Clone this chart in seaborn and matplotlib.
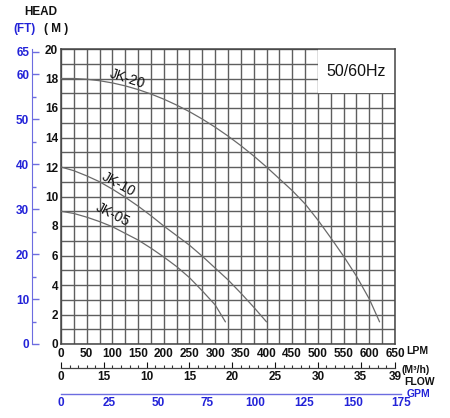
import numpy as np
import pandas as pd
import seaborn as sns
import matplotlib.pyplot as plt
from matplotlib.patches import Rectangle

# flow (LPM) and head (M)
jk20_flow = [0, 25, 50, 75, 100, 125, 150, 175, 200, 225, 250, 275, 300, 325, 350,
             375, 400, 425, 450, 475, 500, 525, 550, 575, 600, 620]
jk20_head = [18.0, 18.0, 17.95, 17.85, 17.7, 17.5, 17.25, 16.95, 16.6, 16.2, 15.75,
             15.25, 14.7, 14.1, 13.45, 12.75, 12.0, 11.2, 10.4, 9.5, 8.4, 7.2, 5.95,
             4.6, 3.05, 1.5]
jk10_flow = [0, 25, 50, 75, 100, 125, 150, 175, 200, 225, 250, 275, 300, 325, 350, 375, 400]
jk10_head = [12.0, 11.75, 11.4, 11.0, 10.5, 9.95, 9.35, 8.7, 8.0, 7.35, 6.7, 5.95,
             5.15, 4.35, 3.45, 2.5, 1.5]
jk05_flow = [0, 25, 50, 75, 100, 125, 150, 175, 200, 225, 250, 275, 300, 320]
jk05_head = [9.0, 8.85, 8.6, 8.3, 7.95, 7.5, 7.05, 6.5, 5.9, 5.25, 4.5, 3.6, 2.65, 1.5]

lpm_ticks = list(range(0, 651, 50))
head_ticks = list(range(0, 21, 2))
ft_ticks = [0, 10, 20, 30, 40, 50, 60, 65]
m3h_ticks = [0, 5, 10, 15, 20, 25, 30, 35, 39]
m3h_labels = ["0", "15", "10", "15", "20", "25", "30", "35", "39"]
gpm_ticks = list(range(0, 176, 25))

curves = {"JK-20": (jk20_flow, jk20_head),
          "JK-10": (jk10_flow, jk10_head),
          "JK-05": (jk05_flow, jk05_head)}
# label position (LPM, M) and rotation
curve_labels = {"JK-20": (129, 17.95, -18),
                "JK-10": (111, 10.85, -29),
                "JK-05": (101, 8.75, -27)}

sns.set_style("white")
plt.rcParams['font.family'] = ['Liberation Sans', 'DejaVu Sans']
plt.rcParams['font.weight'] = 'bold'

BLUE = "#2323d8"
BLUE_LINE = "#6c6ce0"
W, H = 450, 418
TICK_FS = 8.5

fig = plt.figure(figsize=(4.5, 4.18), dpi=100)
ax = fig.add_axes([61 / W, 74 / H, 334 / W, 295 / H])

for name, (fx, hy) in curves.items():
    df = pd.DataFrame({"flow": fx, "head": hy})
    sns.lineplot(data=df, x="flow", y="head", ax=ax, color="#6a6a6a",
                 linewidth=0.9, zorder=3)
    lx, ly, rot = curve_labels[name]
    ax.text(lx, ly, name, rotation=rot, ha="center", va="center",
            fontsize=10, fontweight="normal", color="#111111", zorder=4,
            rotation_mode="anchor")

ax.set_xlim(0, 650)
ax.set_ylim(0, 20)
ax.set_xticks(lpm_ticks)
ax.set_xticks(range(0, 651, 25), minor=True)
ax.set_yticks(head_ticks)
ax.set_yticks(range(0, 21), minor=True)
ax.grid(True, which="both", color="#5e5e5e", linewidth=1.0)
ax.set_axisbelow(True)
ax.tick_params(which="both", length=0, labelsize=TICK_FS, colors="#111111")
ax.tick_params(axis="x", pad=3)
ax.tick_params(axis="y", pad=2)
ax.set_xlabel("")
ax.set_ylabel("")
for s in ax.spines.values():
    s.set_color("#444444")
    s.set_linewidth(1.1)

# blank box behind the frequency label
ax.add_patch(Rectangle((500, 17), 150, 3, facecolor="white", edgecolor="none", zorder=1))
ax.text(575, 18.45, "50/60Hz", ha="center", va="center", fontsize=11.5,
        fontweight="normal", color="#111111", zorder=4)

# FT axis
ft = ax.secondary_yaxis(-0.087, functions=(lambda m: m * 3.2808, lambda f: f / 3.2808))
ft.set_yticks(ft_ticks)
ft.set_yticks(range(5, 60, 10), minor=True)
ft.tick_params(which="major", direction="in", length=5, width=1, colors=BLUE,
               labelsize=TICK_FS, pad=2)
ft.tick_params(which="minor", direction="in", length=3, width=1, color=BLUE_LINE)
ft.spines["left"].set_color(BLUE_LINE)
ft.tick_params(which="major", color=BLUE_LINE)

# m3/h axis
m3 = ax.secondary_xaxis(-0.0814, functions=(lambda q: q * 0.06, lambda q: q / 0.06))
m3.set_xticks(m3h_ticks)
m3.set_xticklabels(m3h_labels)
m3.set_xticks(range(0, 40), minor=True)
m3.tick_params(which="major", direction="in", length=4, width=0.8,
               colors="#111111", labelsize=TICK_FS, pad=2)
m3.tick_params(which="minor", direction="in", length=2.5, width=0.8, color="#333333")
m3.spines["bottom"].set_color("#444444")
m3.spines["bottom"].set_linewidth(0.9)

# GPM axis (runs a little past 650 LPM)
gx = fig.add_axes([61 / W, 24 / H, 175 * 3.785 * (334 / 650) / W, 0.0001])
gx.set_xlim(0, 175)
gx.set_facecolor("none")
for k in ["top", "left", "right"]:
    gx.spines[k].set_visible(False)
gx.spines["bottom"].set_color(BLUE_LINE)
gx.spines["bottom"].set_linewidth(1)
gx.set_yticks([])
gx.set_xticks(gpm_ticks)
gx.set_xticks(range(0, 176, 5), minor=True)
gx.tick_params(which="major", direction="in", length=7, width=1, color=BLUE_LINE,
               labelcolor=BLUE, labelsize=TICK_FS, pad=2)
gx.tick_params(which="minor", direction="in", length=3.5, width=1, color=BLUE_LINE)

# axis titles
fig.text(41 / W, 1 - 12 / H, "HEAD", ha="center", va="center", fontsize=8.5, color="#111111")
fig.text(25 / W, 1 - 29 / H, "(FT)", ha="center", va="center", fontsize=8.5, color=BLUE)
fig.text(56 / W, 1 - 29 / H, "( M )", ha="center", va="center", fontsize=8.5, color="#111111")
fig.text(406 / W, 1 - 351 / H, "LPM", ha="left", va="center", fontsize=7.5, color="#111111")
fig.text(401 / W, 1 - 370 / H, "(M³/h)", ha="left", va="center", fontsize=7.5, color="#111111")
fig.text(404 / W, 1 - 382 / H, "FLOW", ha="left", va="center", fontsize=7.5, color="#111111")
fig.text(407 / W, 1 - 394 / H, "GPM", ha="left", va="center", fontsize=7.5, color=BLUE)

plt.savefig("out.png", dpi=100)
